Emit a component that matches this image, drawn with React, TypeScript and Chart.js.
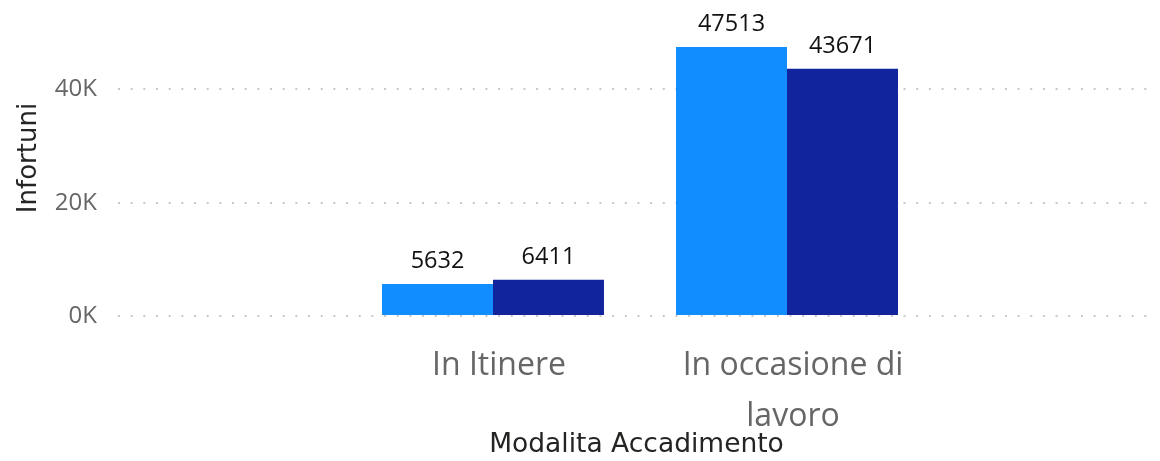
import React, { useEffect, useRef } from 'react';
import { Chart, registerables } from 'chart.js';

Chart.register(...registerables);

const categories = ['In Itinere', 'In occasione di lavoro'];
const categoryTickLabels = [['In Itinere'], ['In occasione di', 'lavoro']];
const seriesNames = ['Serie 1', 'Serie 2'];
const seriesA = [5632, 47513];
const seriesB = [6411, 43671];
const yTickValues = [0, 20000, 40000];
const yTickLabels = ['0K', '20K', '40K'];
const colors = ['#118DFF', '#12239E'];

const valueLabels = {
  id: 'valueLabels',
  afterDatasetsDraw(chart: any) {
    const ctx = chart.ctx;
    ctx.save();
    ctx.font = '23.5px "Open Sans", sans-serif';
    ctx.fillStyle = '#111111';
    ctx.textAlign = 'center';
    ctx.textBaseline = 'alphabetic';
    chart.data.datasets.forEach((ds: any, di: number) => {
      const meta = chart.getDatasetMeta(di);
      meta.data.forEach((bar: any, i: number) => {
        ctx.fillText(String(ds.data[i].y), bar.x, bar.y - 16);
      });
    });
    ctx.restore();
  },
};

export default function App() {
  const ref = useRef<HTMLCanvasElement | null>(null);

  useEffect(() => {
    if (!ref.current) return;
    const chart = new Chart(ref.current, {
      type: 'bar',
      data: {
        datasets: [seriesA, seriesB].map((vals, di) => ({
          label: seriesNames[di],
          data: vals.map((v, i) => ({ x: i, y: v })),
          backgroundColor: colors[di],
          borderWidth: 0,
          categoryPercentage: 0.755,
          barPercentage: 1,
        })),
      },
      options: {
        animation: false,
        responsive: false,
        maintainAspectRatio: false,
        layout: { padding: { left: 0, right: 5, top: 0, bottom: 0 } },
        plugins: {
          legend: { display: false },
          tooltip: { enabled: false },
        },
        scales: {
          x: {
            type: 'linear',
            offset: false,
            min: -1.2755,
            max: 2.2517,
            grid: { display: false, offset: false, drawTicks: false },
            border: { display: false },
            afterBuildTicks: (scale: any) => {
              scale.ticks = categories.map((_, i) => ({ value: i }));
            },
            afterFit: (scale: any) => {
              scale.height = 145;
              scale.paddingLeft = 0;
              scale.paddingRight = 0;
            },
            ticks: {
              autoSkip: false,
              maxRotation: 0,
              minRotation: 0,
              padding: 24,
              labelOffset: 6,
              color: '#666666',
              font: { family: '"Open Sans", sans-serif', size: 32, weight: 'normal', lineHeight: 1.6 },
              callback: (_v: any, i: number) => categoryTickLabels[i],
            },
            title: {
              display: true,
              text: 'Modalita Accadimento',
              color: '#252423',
              font: { family: '"DejaVu Sans", sans-serif', size: 26.5, weight: 'normal', lineHeight: 1.2 },
              padding: { top: 0, bottom: 0 },
            },
          },
          y: {
            min: 0,
            max: 55800,
            afterBuildTicks: (scale: any) => {
              scale.ticks = yTickValues.map((v) => ({ value: v }));
            },
            afterFit: (scale: any) => {
              scale.width = 118;
              scale.paddingTop = 0;
              scale.paddingBottom = 0;
            },
            grid: {
              color: '#c8c8c8',
              lineWidth: 2,
              drawTicks: false,
            },
            border: { display: false, dash: [2, 10.67] },
            ticks: {
              padding: 21,
              color: '#666666',
              font: { family: '"Open Sans", sans-serif', size: 24 },
              callback: (_v: any, i: number) => yTickLabels[i],
            },
            title: {
              display: true,
              text: 'Infortuni',
              color: '#252423',
              font: { family: '"DejaVu Sans", sans-serif', size: 26, weight: 'normal', lineHeight: 1.2 },
              padding: { top: 14, bottom: 0 },
            },
          },
        },
      },
      plugins: [valueLabels],
    } as any);
    return () => chart.destroy();
  }, []);

  return (
    <div style={{ position: 'absolute', left: 0, top: 0, width: 1160, height: 461, background: '#fff' }}>
      <canvas ref={ref} width={1160} height={461} style={{ display: 'block' }} />
    </div>
  );
}
